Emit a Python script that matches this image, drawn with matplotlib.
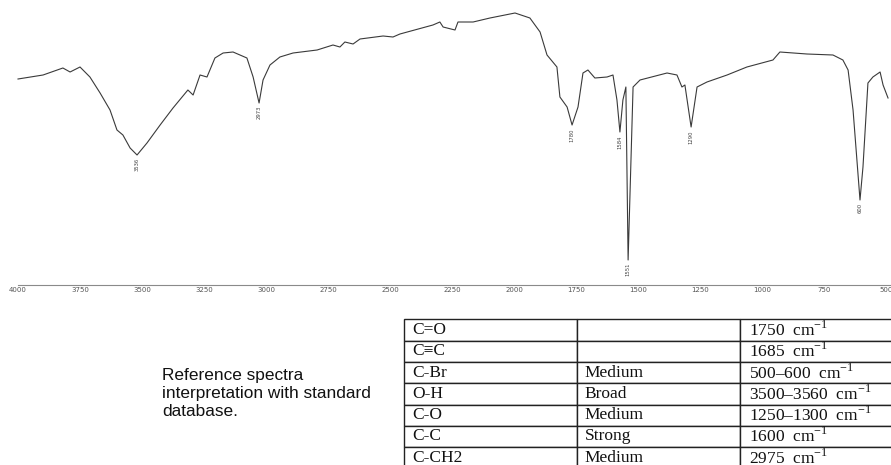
import numpy as np
import matplotlib
matplotlib.use("Agg")
import matplotlib.pyplot as plt

# IR spectrum (wavenumber cm-1, transmittance a.u.)
wavenumber = [4000, 3899, 3819, 3790, 3750, 3710, 3669, 3629, 3601, 3577, 3548, 3520,
              3480, 3427, 3375, 3315, 3294, 3266, 3238, 3206, 3173, 3133, 3077, 3052,
              3028, 3012, 2984, 2944, 2891, 2794, 2730, 2702, 2682, 2649, 2621, 2528,
              2488, 2460, 2327, 2299, 2286, 2238, 2226, 2165, 2097, 1996, 1936, 1895,
              1867, 1827, 1815, 1786, 1766, 1742, 1722, 1702, 1674, 1625, 1601, 1585,
              1573, 1561, 1549, 1540, 1520, 1492, 1383, 1343, 1323, 1311, 1286, 1262,
              1222, 1141, 1061, 956, 928, 819, 714, 674, 653, 633, 605, 593, 573, 553,
              524, 512, 492]
transmittance = [82.4, 84, 86.8, 85.2, 87.2, 83.2, 76.8, 70, 62, 60, 54.8, 52,
                 56.8, 64, 70.8, 78, 76, 84, 83.2, 90.8, 92.8, 93.2, 90.8, 83.2,
                 72.8, 82, 88, 91.2, 92.8, 94, 96, 95.2, 97.2, 96.4, 98.4, 99.6,
                 99.2, 100.4, 104, 105.2, 103.2, 102, 105.2, 105.2, 106.8, 108.8, 106.8, 101.2,
                 92, 87.2, 75.2, 71.2, 64, 71.2, 84.8, 86, 82.8, 83.2, 84, 74,
                 61.2, 74, 79.2, 10, 79.2, 82, 84.8, 84, 79.2, 80, 63.2, 79.2,
                 81.2, 84, 87.2, 90, 93.2, 92.4, 92, 90, 86, 70, 34, 47.2, 80.8, 83.2,
                 85.2, 80, 74.8]

peak_wn = [3520, 3028, 1766, 1573, 1540, 1286, 605]
peak_labels = ["3536", "2973", "1780", "1584", "1551", "1290", "600"]

tick_wn = [4000, 3750, 3500, 3250, 3000, 2750, 2500, 2250, 2000, 1750, 1500, 1250, 1000, 750, 500]
tick_labels = [str(t) for t in tick_wn]

# reference table
groups = ["C=O", "C\u2261C", "C-Br", "O-H", "C-O", "C-C", "C-CH2"]
intensity = ["", "", "Medium", "Broad", "Medium", "Strong", "Medium"]
ranges = ["1750", "1685", "500\u2013600", "3500\u20133560", "1250\u20131300", "1600", "2975"]

plt.rcParams['mathtext.fontset'] = 'custom'
plt.rcParams['mathtext.rm'] = 'Liberation Serif'

fig = plt.figure(figsize=(8.91, 4.65), dpi=100)
W, H = 891, 465

ax = fig.add_axes([0, 180 / H, 1, 285 / H])
ax.plot(wavenumber, transmittance, color='#3a3a3a', lw=0.8)
ax.set_xlim(4072.6, 480)
ax.set_ylim(0, 114)
for s in ['top', 'left', 'right']:
    ax.spines[s].set_visible(False)
ax.spines['bottom'].set_color('#8a8a8a')
ax.spines['bottom'].set_linewidth(0.8)
ax.spines['bottom'].set_bounds(4000, 480)
ax.set_yticks([])
ax.set_xticks(tick_wn)
ax.set_xticklabels(tick_labels)
ax.tick_params(axis='x', length=0, pad=1.5, labelsize=5, labelcolor='#555555')

wn_inc = wavenumber[::-1]
t_inc = transmittance[::-1]
for w, lab in zip(peak_wn, peak_labels):
    tmin = np.interp(w, wn_inc, t_inc)
    ax.text(w, tmin - 1.2, lab, rotation=90, ha='center', va='top',
            fontsize=3.8, color='#444444')

fig.text(162 / W, (H - 393) / H, "Reference spectra\ninterpretation with standard\ndatabase.",
         ha='left', va='center', fontsize=12.4, family='Liberation Sans',
         linespacing=1.25, color='#111111')

cell_text = [[g, i, r + "  cm$^{-1}$"] for g, i, r in zip(groups, intensity, ranges)]
row_h = 21.3
left, top = 404, 319.3
widths = [172.7, 163.3, 190]
tab_ax = fig.add_axes([left / W, (H - top - row_h * len(groups)) / H,
                       sum(widths) / W, row_h * len(groups) / H])
tab_ax.axis('off')
tab = tab_ax.table(cellText=cell_text, colWidths=[w / sum(widths) for w in widths],
                   cellLoc='left', bbox=[0, 0, 1, 1])
tab.auto_set_font_size(False)
for (r, c), cell in tab.get_celld().items():
    cell.PAD = 0.047
    cell.set_edgecolor('#222222')
    cell.set_linewidth(1.0)
    t = cell.get_text()
    t.set_fontsize(12.5)
    t.set_fontfamily(['Liberation Serif', 'DejaVu Serif'])
    t.set_color('#111111')

fig.savefig("out.png", dpi=100)
